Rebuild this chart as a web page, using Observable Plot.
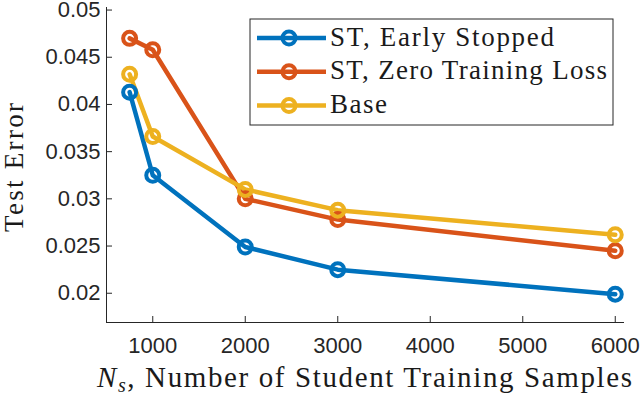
<!DOCTYPE html>
<html><head><meta charset="utf-8">
<script src="https://cdn.jsdelivr.net/npm/d3@7"></script>
<script src="https://cdn.jsdelivr.net/npm/@observablehq/plot@0.6"></script>
<style>
html,body{margin:0;padding:0;background:#fff;}
#chart{position:relative;width:640px;height:396px;}
</style>
</head><body><div id="chart"></div>
<script>
const samples = [750, 1000, 2000, 3000, 6000];
const earlyStopped = [0.0413, 0.0325, 0.0249, 0.0225, 0.0199];
const zeroLoss = [0.0470, 0.0458, 0.0300, 0.0278, 0.0245];
const base = [0.0432, 0.0366, 0.0310, 0.0288, 0.0262];
const seriesNames = ["ST, Early Stopped", "ST, Zero Training Loss", "Base"];
const seriesColors = ["#0072BD", "#D95319", "#EDB120"];
const xTicks = [1000, 2000, 3000, 4000, 5000, 6000];
const yTicks = [0.02, 0.025, 0.03, 0.035, 0.04, 0.045, 0.05];

const seriesValues = [earlyStopped, zeroLoss, base];
const data = [];
seriesNames.forEach((name, i) => samples.forEach((x, j) => data.push({series: name, x, y: seriesValues[i][j]})));
const axisColor = "#262626";
const serif = "'Liberation Serif','DejaVu Serif',serif";

const plot = Plot.plot({
  width: 640, height: 396,
  marginLeft: 106, marginRight: 16, marginTop: 7, marginBottom: 74,
  style: {fontFamily: "'Liberation Sans', Arial, sans-serif", fontSize: "22px", color: axisColor, background: "#fff"},
  x: {domain: [500, 6100], label: null},
  y: {domain: [0.0169, 0.05027], label: null},
  color: {domain: seriesNames, range: seriesColors},
  marks: [
    Plot.axisX({ticks: xTicks, tickSize: -6, text: null, stroke: axisColor}),
    Plot.axisX({ticks: xTicks, tickSize: 0, tickPadding: 15, tickFormat: d => String(d), fill: axisColor}),
    Plot.axisY({ticks: yTicks, tickSize: -6, text: null, stroke: axisColor}),
    Plot.axisY({ticks: yTicks, tickSize: 0, tickPadding: 6, tickFormat: d => String(+d.toFixed(3)), fill: axisColor}),
    Plot.ruleX([500], {stroke: axisColor, strokeWidth: 1}),
    Plot.ruleY([0.0169], {stroke: axisColor, strokeWidth: 1}),
    Plot.line(data, {x: "x", y: "y", z: "series", stroke: "series", strokeWidth: 4.5}),
    Plot.dot(data, {x: "x", y: "y", stroke: "series", r: 6.5, strokeWidth: 4, fill: "none"})
  ]
});
document.getElementById("chart").appendChild(plot);

const svg = d3.select(plot);
function txt(sel, x, y, size, anchor, len) {
  const t = sel.append("text").attr("x", x).attr("y", y)
    .style("font-family", serif).style("font-size", size + "px")
    .style("text-anchor", anchor).style("fill", "#1a1a1a");
  if (len) t.attr("textLength", len).attr("lengthAdjust", "spacing");
  return t;
}
// Y axis title
txt(svg.append("g").attr("transform", "translate(23,167.5) rotate(-90)"), 0, 0, 27, "middle", 129).text("Test Error");
// X axis title
const xt = txt(svg, 97, 387, 29, "start", 535);
xt.append("tspan").style("font-style", "italic").text("N");
xt.append("tspan").style("font-style", "italic").style("font-size", "20px").attr("dy", 5).text("s");
xt.append("tspan").attr("dy", -5).text(", Number of Student Training Samples");

// Legend
const lg = svg.append("g");
lg.append("rect").attr("x", 250).attr("y", 19).attr("width", 363).attr("height", 106)
  .attr("fill", "#fff").attr("stroke", axisColor).attr("stroke-width", 1);
const legendLens = [224, 277, 57];
seriesNames.forEach((name, i) => {
  const cy = 38 + i * 33.8;
  lg.append("line").attr("x1", 257).attr("x2", 326).attr("y1", cy).attr("y2", cy)
    .attr("stroke", seriesColors[i]).attr("stroke-width", 4.5);
  lg.append("circle").attr("cx", 289).attr("cy", cy).attr("r", 6.5)
    .attr("fill", "none").attr("stroke", seriesColors[i]).attr("stroke-width", 4);
  txt(lg, 330, cy + 7.5, 27, "start", legendLens[i]).text(name);
});
</script>
</body></html>
